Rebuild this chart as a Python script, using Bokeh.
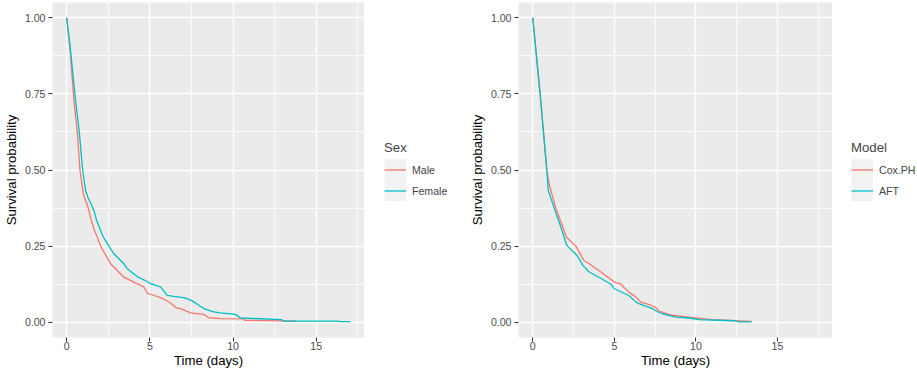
from bokeh.plotting import figure
from bokeh.layouts import row
from bokeh.models import (Range1d, FixedTicker, PrintfTickFormatter, Legend, LegendItem)
from bokeh.embed import file_html
from bokeh.resources import INLINE

# ---- data ----
male_t = [0, 0.2, 0.44, 0.64, 0.8, 1.0, 1.3, 1.48, 1.64, 2.04, 2.3, 2.64, 2.9, 3.44, 4.04,
          4.64, 4.84, 5.04, 5.74, 6.2, 6.6, 6.84, 7.44, 8.24, 8.54, 9.24, 10.6, 10.7, 13.8]
male_s = [1, 0.9, 0.727, 0.625, 0.5, 0.421, 0.375, 0.334, 0.307, 0.25, 0.225, 0.192, 0.178,
          0.148, 0.132, 0.116, 0.096, 0.092, 0.079, 0.065, 0.047, 0.045, 0.031, 0.026, 0.015,
          0.012, 0.011, 0.0066, 0.004]

female_t = [0, 0.2, 0.54, 0.76, 0.96, 1.14, 1.28, 1.5, 1.68, 1.8, 2.0, 2.2, 2.54, 2.84, 3.44,
            3.64, 4.24, 4.84, 5.04, 5.64, 6.04, 6.44, 7.04, 7.5, 8.24, 8.84, 9.24, 10.14, 10.45,
            12.94, 13.0, 16.34, 16.4, 17.04]
female_s = [1, 0.91, 0.727, 0.625, 0.5, 0.432, 0.41, 0.385, 0.36, 0.334, 0.307, 0.28, 0.25,
            0.225, 0.192, 0.176, 0.150, 0.134, 0.127, 0.116, 0.088, 0.085, 0.081, 0.072, 0.045,
            0.034, 0.031, 0.026, 0.014, 0.009, 0.004, 0.004, 0.002, 0.002]

cox_t = [0, 0.45, 0.86, 1.0, 1.41, 1.88, 2.05, 2.64, 3.13, 3.46, 4.05, 5.0, 5.4, 5.89, 6.32,
         6.61, 7.22, 7.55, 7.73, 8.55, 9.6, 11.0, 12.44, 13.42]
cox_s = [1, 0.75, 0.5, 0.454, 0.375, 0.307, 0.28, 0.25, 0.203, 0.192, 0.170, 0.132, 0.125,
         0.099, 0.083, 0.067, 0.056, 0.048, 0.037, 0.023, 0.017, 0.009, 0.005, 0.003]

aft_t = [0, 0.45, 0.86, 0.95, 1.31, 1.76, 2.05, 2.13, 2.72, 3.07, 3.46, 4.05, 4.79, 5.0, 5.89,
         6.32, 6.51, 7.33, 7.55, 7.94, 8.76, 9.6, 10.2, 12.44, 12.65, 13.42]
aft_s = [1, 0.75, 0.5, 0.433, 0.375, 0.307, 0.258, 0.25, 0.219, 0.187, 0.165, 0.148, 0.125,
         0.110, 0.088, 0.067, 0.061, 0.045, 0.037, 0.028, 0.017, 0.014, 0.009, 0.005, 0.001,
         0.001]

x_ticks = [0, 5, 10, 15]
x_minor = [-2.5, 2.5, 7.5, 12.5, 17.5]
y_ticks = [0, 0.25, 0.5, 0.75, 1.0]
y_minor = [0.125, 0.375, 0.625, 0.875]

RED = "#F8766D"
CYAN = "#00BFC4"
FONT = "Liberation Sans"


def make_panel(x_range, frame_w, left_border, series):
    p = figure(frame_width=frame_w, frame_height=335,
               min_border_left=left_border, min_border_right=0,
               min_border_top=2, min_border_bottom=39,
               x_range=x_range, y_range=Range1d(-0.05, 1.05),
               output_backend="svg", toolbar_location=None)
    p.background_fill_color = "#EBEBEB"
    p.border_fill_color = "white"
    p.outline_line_color = None

    for ax, ticks, minor in ((p.xaxis[0], x_ticks, x_minor), (p.yaxis[0], y_ticks, y_minor)):
        ax.ticker = FixedTicker(ticks=ticks, minor_ticks=minor)
        ax.axis_line_color = None
        ax.major_tick_line_color = "#333333"
        ax.major_tick_line_width = 1
        ax.major_tick_in = 0
        ax.major_tick_out = 4
        ax.minor_tick_line_color = None
        ax.major_label_text_font = FONT
        ax.major_label_text_font_size = "10.6px"
        ax.major_label_text_color = "#4D4D4D"
        ax.axis_label_text_font = FONT
        ax.axis_label_text_font_size = "13.2px"
        ax.axis_label_text_font_style = "normal"
        ax.axis_label_text_color = "black"
    p.xaxis.axis_label = "Time (days)"
    p.yaxis.axis_label = "Survival probability"
    p.yaxis.formatter = PrintfTickFormatter(format="%.2f")
    p.xaxis.major_label_standoff = 0
    p.xaxis.axis_label_standoff = 0
    p.yaxis.major_label_standoff = 3
    p.yaxis.axis_label_standoff = 3

    for g in (p.xgrid[0], p.ygrid[0]):
        g.grid_line_color = "white"
        g.grid_line_width = 1.4
        g.minor_grid_line_color = "white"
        g.minor_grid_line_width = 0.8

    for (xs, ys, color, label) in series:
        p.line(xs, ys, line_color=color, line_width=1.3)
    return p


def make_legend(width, series, title, gap):
    lf = figure(width=width, height=376, min_border=0,
                x_range=Range1d(0, 1), y_range=Range1d(0, 1),
                x_axis_location=None, y_axis_location=None,
                output_backend="svg", toolbar_location=None)
    lf.grid.visible = False
    lf.outline_line_color = None
    lf.background_fill_color = "white"
    lf.border_fill_color = "white"
    items = []
    for (xs, ys, color, label) in series:
        # key background (drawn only in the legend; data lie outside the ranges)
        bg = lf.line(x=[5, 6], y=[5, 6], line_color="#F2F2F2", line_width=21.5)
        r = lf.line(x=[5, 6], y=[5, 6], line_color=color, line_width=1.3)
        items.append(LegendItem(label=label, renderers=[bg, r]))
    leg = Legend(items=items, location=(gap, 136), title=title,
                 title_text_font=FONT, title_text_font_size="13.2px",
                 title_text_font_style="normal", title_standoff=4,
                 label_text_font=FONT, label_text_font_size="10.6px",
                 glyph_width=22, glyph_height=21, label_standoff=6,
                 spacing=0, padding=0, margin=0,
                 border_line_color=None, background_fill_alpha=0)
    lf.add_layout(leg, "center")
    return lf


s1 = [(male_t, male_s, RED, "Male"), (female_t, female_s, CYAN, "Female")]
s2 = [(cox_t, cox_s, RED, "Cox.PH"), (aft_t, aft_s, CYAN, "AFT")]

p1 = make_panel(Range1d(-0.85, 17.9), 312, 52, s1)
l1 = make_legend(94, s1, "Sex", 20)
p2 = make_panel(Range1d(-0.875, 18.375), 314, 60, s2)
l2 = make_legend(85, s2, "Model", 19)

layout = row(p1, l1, p2, l2, spacing=0)
open("out.html", "w").write(file_html(layout, INLINE))
